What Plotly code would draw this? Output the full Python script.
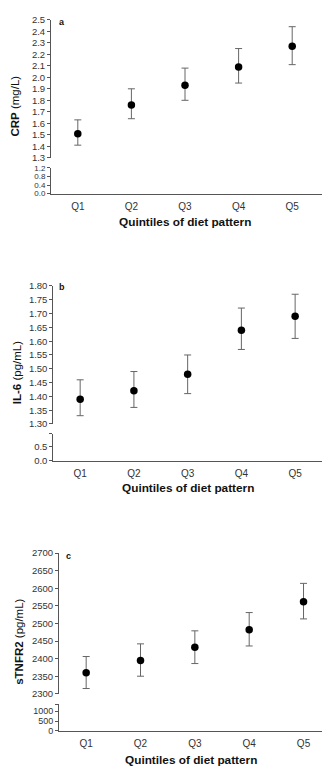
import plotly.graph_objects as go

W, H = 322, 775

quintiles = ["Q1", "Q2", "Q3", "Q4", "Q5"]

crp_mean = [1.51, 1.76, 1.93, 2.09, 2.27]
crp_low = [1.41, 1.64, 1.80, 1.95, 2.11]
crp_high = [1.63, 1.90, 2.08, 2.25, 2.44]

il6_mean = [1.39, 1.42, 1.48, 1.64, 1.69]
il6_low = [1.33, 1.36, 1.41, 1.57, 1.61]
il6_high = [1.46, 1.49, 1.55, 1.72, 1.77]

tnf_mean = [2360, 2395, 2432, 2482, 2562]
tnf_low = [2315, 2350, 2386, 2436, 2513]
tnf_high = [2406, 2442, 2479, 2531, 2614]

FONT = "Liberation Sans, Arial, sans-serif"
LINE = "#555555"
TXT = "#333333"


def py(px):
    return 1 - px / H


def px_x(px):
    return px / W


fig = go.Figure()


def add_panel(mean, low, high, xa, ya, ya_low):
    fig.add_trace(go.Scatter(
        x=quintiles, y=mean, mode="markers",
        xaxis=xa, yaxis=ya,
        marker=dict(color="black", size=7.5),
        error_y=dict(type="data", symmetric=False,
                     array=[h - m for h, m in zip(high, mean)],
                     arrayminus=[m - l for m, l in zip(mean, low)],
                     color="#666666", thickness=1, width=3.5),
        hoverinfo="skip", showlegend=False))
    # empty trace so the lower (broken) y-axis segment is drawn
    fig.add_trace(go.Scatter(
        x=quintiles, y=[None] * len(quintiles), mode="markers",
        xaxis=xa, yaxis=ya_low, hoverinfo="skip", showlegend=False))


add_panel(crp_mean, crp_low, crp_high, "x", "y", "y2")
add_panel(il6_mean, il6_low, il6_high, "x2", "y3", "y4")
add_panel(tnf_mean, tnf_low, tnf_high, "x3", "y5", "y6")

common_y = dict(showline=True, linecolor=LINE, linewidth=1, ticks="outside",
                ticklen=3, tickwidth=1, tickcolor=LINE, showgrid=False,
                zeroline=False, tickfont=dict(family=FONT, size=9.5, color=TXT),
                fixedrange=True)
common_x = dict(showline=True, linecolor=LINE, linewidth=1, ticks="outside",
                ticklen=3, tickcolor="rgba(0,0,0,0)", showgrid=False,
                zeroline=False, tickfont=dict(family=FONT, size=10, color=TXT),
                type="category", fixedrange=True)

layout = dict(
    width=W, height=H, margin=dict(l=0, r=0, t=0, b=0),
    paper_bgcolor="white", plot_bgcolor="white", showlegend=False,
    font=dict(family=FONT, color=TXT),
    # panel a
    xaxis=dict(common_x, domain=[px_x(51), 1], anchor="y2", range=[-0.5, 4.556]),
    yaxis=dict(common_y, domain=[py(154), py(14)], anchor="x", range=[1.3, 2.5],
               dtick=0.1, tick0=1.3, tickformat=".1f"),
    yaxis2=dict(common_y, domain=[py(190.3), py(164.3)], anchor="x", range=[0, 1.2],
                tickvals=[0, 0.4, 0.8, 1.2], ticktext=["0.0", "0.4", "0.8", "1.2"],
                tickfont=dict(family=FONT, size=8, color=TXT)),
    # panel b
    xaxis2=dict(common_x, domain=[px_x(53.3), 1], anchor="y4", range=[-0.5, 4.5]),
    yaxis3=dict(common_y, domain=[py(424), py(284)], anchor="x2", range=[1.30, 1.80],
                dtick=0.05, tick0=1.30, tickformat=".2f"),
    yaxis4=dict(common_y, domain=[py(461.3), py(434)], anchor="x2", range=[0, 0.95],
                tickvals=[0, 0.5, 0.95], ticktext=["0.0", "0.5", ""]),
    # panel c
    xaxis3=dict(common_x, domain=[px_x(59), 1], anchor="y6", range=[-0.5, 4.34]),
    yaxis5=dict(common_y, domain=[py(697.7), py(555)], anchor="x3", range=[2300, 2700],
                dtick=50, tick0=2300),
    yaxis6=dict(common_y, domain=[py(735.3), py(708.3)], anchor="x3", range=[0, 1350],
                tickvals=[0, 500, 1000, 1350], ticktext=["0", "500", "1000", ""],
                tickfont=dict(family=FONT, size=9, color=TXT)),
)
fig.update_layout(**layout)

ann = []
# y-axis titles
for text, x, y in [("<b>CRP</b> (mg/L)", 15, 102),
                   ("<b>IL-6</b> (pg/mL)", 17, 372.5),
                   ("<b>sTNFR2</b> (pg/mL)", 19, 645)]:
    ann.append(dict(text=text, x=px_x(x), y=py(y), xref="paper", yref="paper",
                    showarrow=False, textangle=-90, xanchor="center", yanchor="middle",
                    font=dict(family=FONT, size=11.5, color="#111111")))
# x-axis titles
for x, y in [(185, 219), (188, 489), (191, 765)]:
    ann.append(dict(text="<b>Quintiles of diet pattern</b>", x=px_x(x), y=py(y),
                    xref="paper", yref="paper", showarrow=False,
                    xanchor="center", yanchor="middle",
                    font=dict(family=FONT, size=11.8, color="#111111")))
# panel letters
for t, x, y in [("a", 62, 16), ("b", 62, 285), ("c", 68, 558)]:
    ann.append(dict(text="<b>%s</b>" % t, x=px_x(x), y=py(y), xref="paper", yref="paper",
                    showarrow=False, xanchor="center", yanchor="middle",
                    font=dict(family=FONT, size=9, color="#111111")))
fig.update_layout(annotations=ann)

fig.write_html(
    "out.html",
    config={"displayModeBar": False},
    post_script="document.body.style.margin='0';document.body.style.padding='0';"
                "document.body.style.overflow='hidden';",
)
